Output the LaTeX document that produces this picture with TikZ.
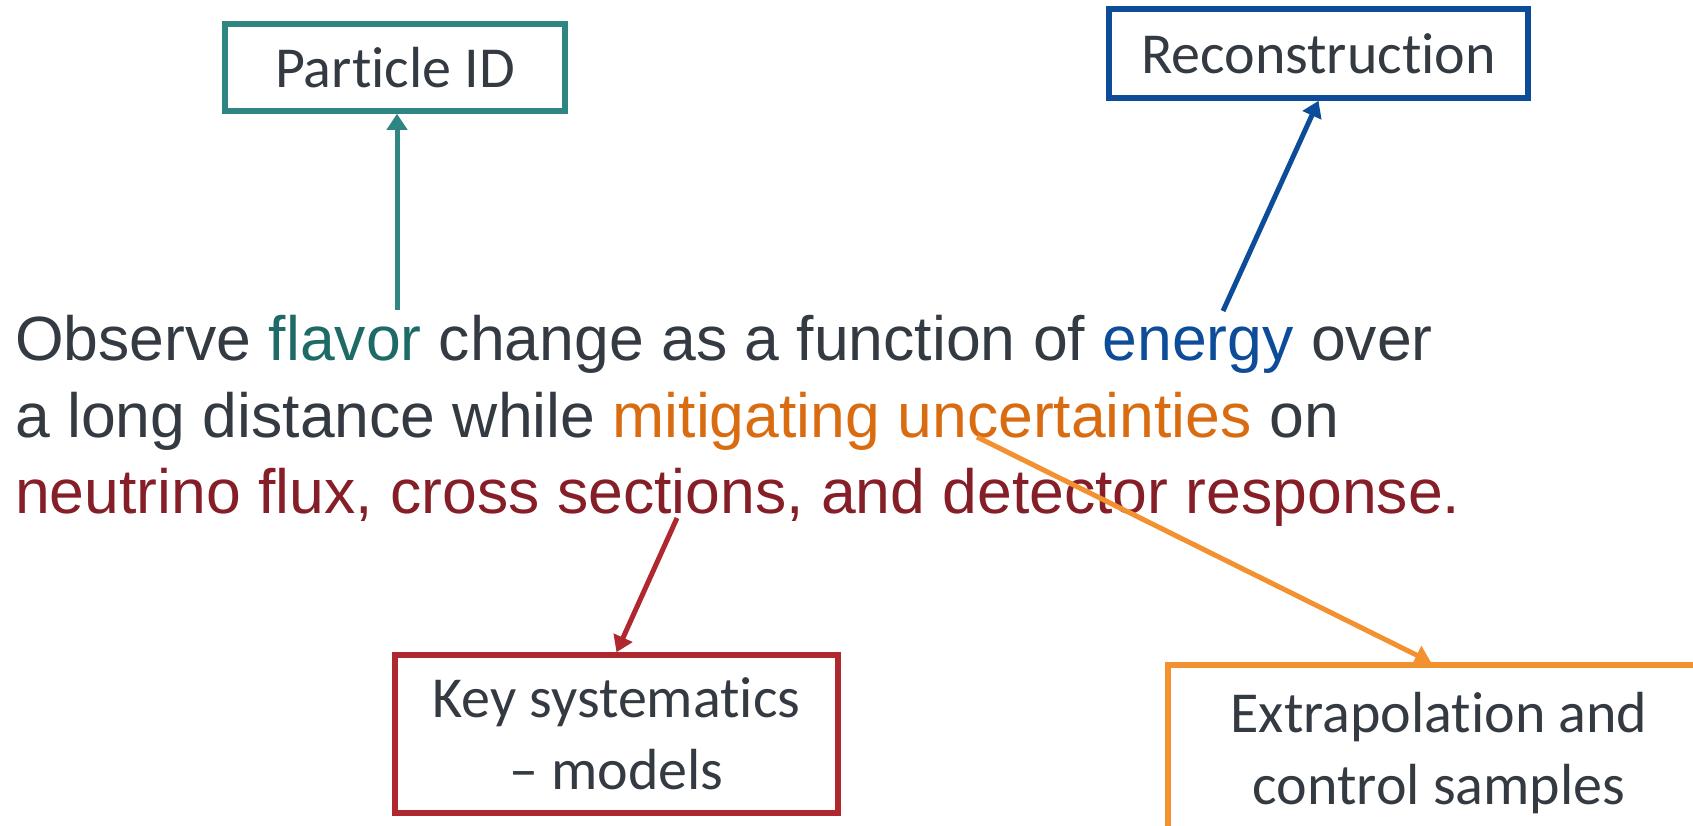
\documentclass[tikz,border=0pt]{standalone}
\usepackage{fontspec}
\setmainfont{Liberation Sans}
\newfontfamily\boxfnt[Ligatures=NoCommon]{Carlito}
\newfontfamily\bodyfnt{Liberation Sans}
\usetikzlibrary{arrows.meta}
\definecolor{txt}{HTML}{343A41}
\definecolor{tealbox}{HTML}{2E8582}
\definecolor{tealtxt}{HTML}{1E6A66}
\definecolor{bluebox}{HTML}{0D4C99}
\definecolor{orangebox}{HTML}{F39130}
\definecolor{orangetxt}{HTML}{D96B10}
\definecolor{redbox}{HTML}{B0282F}
\definecolor{redtxt}{HTML}{851E27}
\begin{document}
\begin{tikzpicture}[x=1pt,y=-1pt,
  lbl/.style={line width=5.5pt, font=\boxfnt\fontsize{58}{72}\selectfont, text=txt, align=center, inner sep=0pt},
  body/.style={anchor=base west, inner sep=0pt, text=txt, font=\bodyfnt\fontsize{62.5}{76}\selectfont},
  arr/.style={line width=5pt, -{Triangle[length=16pt,width=20pt]}}]
\useasboundingbox (0,0) rectangle (1693,825);
\clip (0,0) rectangle (1693,825);
\node[lbl, draw=tealbox, minimum width=340, minimum height=87] (pid) at (395,67.5) {Particle ID};
\node[lbl, draw=bluebox, minimum width=419, minimum height=89] (rec) at (1318.5,53.5) {Reconstruction};
\node[lbl, draw=redbox, minimum width=443, minimum height=158] (key) at (616.5,734) {Key systematics\\– models};
\node[lbl, draw=orangebox, minimum width=542, minimum height=176] (ext) at (1439,753) {Extrapolation and\\control samples};
\node[body] (l1) at (15,360) {Observe \textcolor{tealtxt}{flavor} change as a function of \textcolor{bluebox}{energy} over};
\node[body] (l2) at (15,437) {a long distance while \textcolor{orangetxt}{mitigating uncertainties} on};
\node[body, text=redtxt] (l3) at (15,513) {neutrino flux, cross sections, and detector response.};
\coordinate (flv) at (397,310);
\coordinate (en) at (1223,311);
\coordinate (cs) at (677,518);
\coordinate (unc) at (977,437);
\draw[arr, tealbox] (flv) -- (flv |- pid.south);
\draw[arr, bluebox] (en) -- (rec.south);
\draw[arr, redbox] (cs) -- (key.north);
\draw[arr, orangebox] (unc) -- ([xshift=-8pt]ext.north);
\end{tikzpicture}
\end{document}
